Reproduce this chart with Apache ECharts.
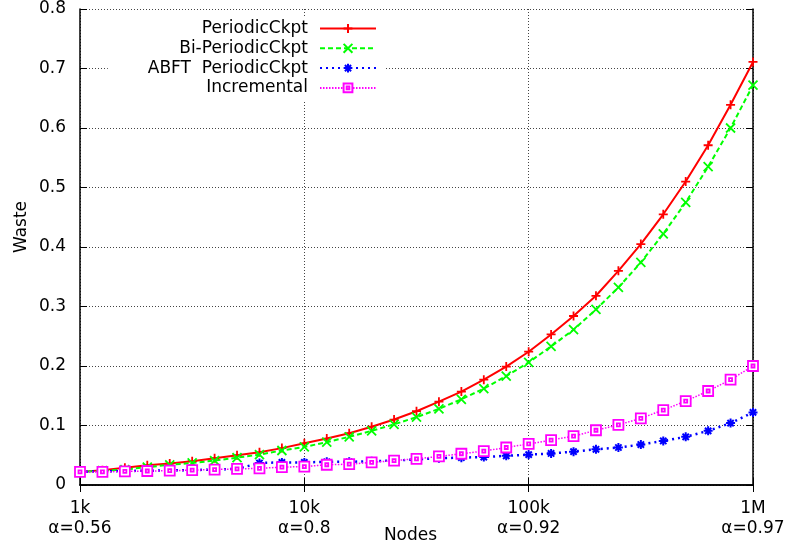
<!DOCTYPE html>
<html>
<head>
<meta charset="utf-8">
<script src="https://cdn.jsdelivr.net/npm/echarts@6/dist/echarts.min.js"></script>
<style>
  html, body { margin: 0; padding: 0; background: #fff; }
  #chart { width: 785px; height: 548px; }
</style>
</head>
<body>
<div id="chart"></div>
<script>
// Number of nodes at each sample (ten samples per decade)
const nodes = [
  1000, 1259, 1585, 1995, 2512, 3162, 3981, 5012, 6310, 7943,
  10000, 12589, 15849, 19953, 25119, 31623, 39811, 50119, 63096, 79433,
  100000, 125893, 158489, 199526, 251189, 316228, 398107, 501187, 630957, 794328,
  1000000
];

// Waste per protocol
const periodicCkpt = [
  0.022, 0.025, 0.029, 0.033, 0.036, 0.040, 0.045, 0.050, 0.055, 0.062,
  0.070, 0.078, 0.087, 0.098, 0.110, 0.124, 0.140, 0.157, 0.177, 0.199,
  0.224, 0.253, 0.284, 0.318, 0.360, 0.405, 0.455, 0.510, 0.571, 0.639,
  0.711
];
const biPeriodicCkpt = [
  0.022, 0.024, 0.026, 0.030, 0.034, 0.037, 0.041, 0.046, 0.051, 0.058,
  0.064, 0.072, 0.081, 0.091, 0.102, 0.114, 0.128, 0.144, 0.162, 0.183,
  0.206, 0.233, 0.261, 0.295, 0.332, 0.374, 0.422, 0.475, 0.535, 0.600,
  0.672
];
const abftPeriodicCkpt = [
  0.022, 0.023, 0.0235, 0.024, 0.0245, 0.025, 0.026, 0.027, 0.037, 0.038,
  0.038, 0.039, 0.039, 0.040, 0.041, 0.043, 0.045, 0.046, 0.047, 0.049,
  0.051, 0.053, 0.056, 0.060, 0.063, 0.068, 0.074, 0.081, 0.091, 0.104,
  0.122
];
const incremental = [
  0.022, 0.022, 0.023, 0.0235, 0.024, 0.025, 0.026, 0.027, 0.028, 0.030,
  0.031, 0.034, 0.035, 0.038, 0.041, 0.044, 0.048, 0.0525, 0.057, 0.063,
  0.069, 0.0755, 0.082, 0.092, 0.101, 0.112, 0.126, 0.141, 0.158, 0.177,
  0.200
];

const seriesNames = ['PeriodicCkpt', 'Bi-PeriodicCkpt', 'ABFT  PeriodicCkpt', 'Incremental'];

// Decade ticks on the node axis and their labels
const xTickValues = [1000, 10000, 100000, 1000000];
const xTickLabels = ['1k\nα=0.56', '10k\nα=0.8', '100k\nα=0.92', '1M\nα=0.97'];

const FONT = 'DejaVu Sans';

function pairs(ys) {
  return nodes.map((n, i) => [n, ys[i]]);
}

function xLabel(v) {
  for (let i = 0; i < xTickValues.length; i++) {
    if (Math.abs(Math.log10(v) - Math.log10(xTickValues[i])) < 1e-6) return xTickLabels[i];
  }
  return '';
}

const gridLine = { show: true, lineStyle: { color: '#444', width: 1, type: [1, 2] } };
const frameLine = { show: true, lineStyle: { color: '#000', width: 1.5 } };
const innerTick = { show: true, inside: true, length: 7, lineStyle: { color: '#000', width: 1 } };

const chart = echarts.init(document.getElementById('chart'), null, { renderer: 'canvas' });

chart.setOption({
  animation: false,
  backgroundColor: '#fff',
  textStyle: { fontFamily: FONT },
  grid: { left: 80, right: 32, top: 9, bottom: 63, containLabel: false, outerBoundsMode: 'none' },
  legend: {
    orient: 'vertical',
    right: 400,
    top: 16,
    align: 'right',
    itemWidth: 56,
    itemHeight: 11,
    itemGap: 2.8,
    backgroundColor: '#fff',
    padding: [4, 8, 4, 40],
    textStyle: {
      fontFamily: FONT, fontSize: 17, color: '#000',
      padding: [0, 7, 0, 0]
    },
    data: seriesNames
  },
  xAxis: [
    {
      type: 'log',
      logBase: 10,
      min: 1000,
      max: 1000000,
      name: 'Nodes',
      nameLocation: 'middle',
      nameGap: 42,
      nameMoveOverlap: false,
      nameTextStyle: { fontFamily: FONT, fontSize: 17, color: '#000', padding: [0, 12, 0, 0] },
      axisLine: frameLine,
      axisTick: innerTick,
      minorTick: { show: false },
      axisLabel: {
        formatter: xLabel,
        fontFamily: FONT, fontSize: 17, color: '#000',
        lineHeight: 20, margin: 14,
        showMinLabel: true, showMaxLabel: true
      },
      splitLine: gridLine
    },
    {
      type: 'log',
      logBase: 10,
      min: 1000,
      max: 1000000,
      position: 'top',
      axisLine: frameLine,
      axisTick: innerTick,
      axisLabel: { show: false },
      splitLine: { show: false }
    }
  ],
  yAxis: [
    {
      type: 'value',
      min: 0,
      max: 0.8,
      interval: 0.1,
      name: 'Waste',
      nameLocation: 'middle',
      nameRotate: 90,
      nameGap: 50,
      nameMoveOverlap: false,
      nameTextStyle: { fontFamily: FONT, fontSize: 17, color: '#000', padding: [0, 0, 0, 40] },
      axisLine: frameLine,
      axisTick: innerTick,
      axisLabel: {
        formatter: v => String(Math.round(v * 10) / 10),
        fontFamily: FONT, fontSize: 17, color: '#000', margin: 14
      },
      splitLine: gridLine
    },
    {
      type: 'value',
      min: 0,
      max: 0.8,
      interval: 0.1,
      position: 'right',
      axisLine: frameLine,
      axisTick: innerTick,
      axisLabel: { show: false },
      splitLine: { show: false }
    }
  ],
  series: [
    {
      name: seriesNames[0],
      type: 'line',
      data: pairs(periodicCkpt),
      lineStyle: { color: '#ff0000', width: 2, type: 'solid' },
      symbol: 'path://M5,0V10M0,5H10',
      symbolSize: 9,
      itemStyle: { color: '#ff0000', borderColor: '#ff0000', borderWidth: 1.8 }
    },
    {
      name: seriesNames[1],
      type: 'line',
      data: pairs(biPeriodicCkpt),
      lineStyle: { color: '#00ff00', width: 2, type: [5, 3] },
      symbol: 'path://M0,0L10,10M10,0L0,10',
      symbolSize: 9,
      itemStyle: { color: '#00ff00', borderColor: '#00ff00', borderWidth: 1.8 }
    },
    {
      name: seriesNames[2],
      type: 'line',
      data: pairs(abftPeriodicCkpt),
      lineStyle: { color: '#0000ff', width: 2.5, type: [2, 4] },
      symbol: 'path://M5,0V10M0,5H10M1.5,1.5L8.5,8.5M8.5,1.5L1.5,8.5',
      symbolSize: 9,
      itemStyle: { color: '#0000ff', borderColor: '#0000ff', borderWidth: 2 }
    },
    {
      name: seriesNames[3],
      type: 'line',
      data: pairs(incremental),
      lineStyle: { color: '#ff00ff', width: 1.5, type: [1.5, 1.5] },
      symbol: 'path://M0,0H10V10H0ZM3.5,3.5H6.5V6.5H3.5Z',
      symbolSize: 10,
      itemStyle: { color: '#ffffff', borderColor: '#ff00ff', borderWidth: 1.8 }
    }
  ]
});
</script>
</body>
</html>
